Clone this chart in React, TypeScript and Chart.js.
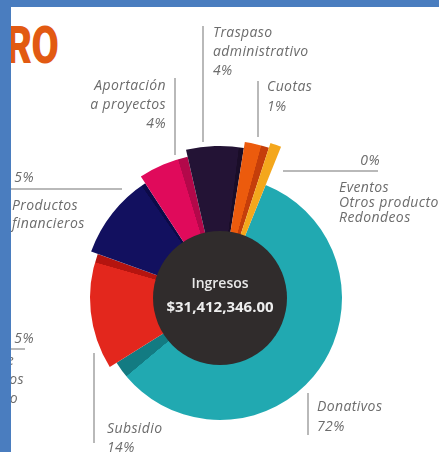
import React, { useEffect, useRef } from "react";
import { Chart, registerables } from "chart.js";

Chart.register(...registerables);

// ---- data ----
const categories = [
  "Donativos",
  "Subsidio",
  "Productos financieros",
  "Aportación a proyectos",
  "Traspaso administrativo",
  "Cuotas",
  "Eventos / Otros productos / Redondeos",
];
// share of the circle each drawn slice takes
const sliceShares = [60, 14.4, 10.3, 5.6, 6.1, 2.5, 1.1];
// percentages printed next to the slices
const percentLabels = ["72%", "14%", "5%", "4%", "4%", "1%", "0%"];
const totalLabel = "$31,412,346.00";

// ---- styles ----
const sliceColors = ["#21a9b1", "#e3271d", "#12105f", "#e00a5b", "#231335", "#ec5b0d", "#f4a71c"];
const shadeColors = ["#137b82", "#b5140f", "#0c0a48", "#b3084a", "#1a0d28", "#c53e0a", "#d98c12"];
const sliceOuterRadius = [122, 130, 137, 145, 152, 158, 163];
const shadeDeg = [8, 4, 2, 4, 2, 3, 0];

const spiralPlugin = {
  id: "spiralShade",
  beforeDatasetsDraw(chart: any) {
    const meta = chart.getDatasetMeta(0);
    const ctx = chart.ctx as CanvasRenderingContext2D;
    const TAU = Math.PI * 2;
    meta.data.forEach((arc: any, i: number) => {
      arc.outerRadius = sliceOuterRadius[i];
      const a0 = arc.startAngle;
      const circ = arc.endAngle - arc.startAngle;
      const pre = 0.03;
      const shade = Math.min((shadeDeg[i] * Math.PI) / 180, circ);
      const g = ctx.createConicGradient(a0 - pre, arc.x, arc.y);
      const f1 = (pre + circ - shade) / TAU;
      const f2 = Math.min(1, (pre + circ + pre) / TAU);
      g.addColorStop(0, sliceColors[i]);
      g.addColorStop(f1, sliceColors[i]);
      g.addColorStop(Math.min(1, f1 + 0.0005), shadeColors[i]);
      g.addColorStop(f2, shadeColors[i]);
      arc.options = Object.assign({}, arc.options, { backgroundColor: g });
    });
  },
};

const labelColor = "#6c6c6c";
const lineColor = "#b9b9b9";
const LABEL_FONT = '"Open Sans", "DejaVu Sans", sans-serif';

function Label(props: {
  x: number;
  baseline: number;
  lines: string[];
  align?: "left" | "right";
  lh?: number;
  fs?: number;
}) {
  const lh = props.lh ?? 19;
  const fs = props.fs ?? 14;
  const top = props.baseline - (lh / 2 + 0.388 * fs);
  const style: React.CSSProperties = {
    position: "absolute",
    top,
    fontFamily: LABEL_FONT,
    fontStyle: "italic",
    fontSize: fs,
    letterSpacing: "0.4px",
    lineHeight: lh + "px",
    color: labelColor,
    whiteSpace: "nowrap",
  };
  if (props.align === "right") {
    style.right = 439 - props.x;
    style.textAlign = "right";
  } else {
    style.left = props.x;
  }
  return (
    <div style={style}>
      {props.lines.map((l, i) => (
        <div key={i}>{l}</div>
      ))}
    </div>
  );
}

function VLine({ x, y1, y2 }: { x: number; y1: number; y2: number }) {
  return <div style={{ position: "absolute", left: x - 1, top: y1, width: 2, height: y2 - y1, background: lineColor }} />;
}
function HLine({ y, x1, x2 }: { y: number; x1: number; x2: number }) {
  return <div style={{ position: "absolute", left: x1, top: y - 1, width: x2 - x1, height: 2, background: lineColor }} />;
}

const titleStyle: React.CSSProperties = {
  position: "absolute",
  top: 20,
  fontFamily: "Roboto, sans-serif",
  fontWeight: 900,
  fontSize: 52,
  lineHeight: 1,
  color: "#e25a12",
  transform: "scaleX(0.76)",
  transformOrigin: "right center",
  whiteSpace: "nowrap",
};

export default function App() {
  const ref = useRef<HTMLCanvasElement | null>(null);

  useEffect(() => {
    if (!ref.current) return;
    const chart = new Chart(ref.current, {
      type: "doughnut",
      data: {
        labels: categories,
        datasets: [
          {
            data: sliceShares,
            backgroundColor: sliceColors,
            borderWidth: 0,
          },
        ],
      },
      options: {
        responsive: false,
        animation: false,
        rotation: 22,
        cutout: 50,
        layout: { padding: 0 },
        plugins: { legend: { display: false }, tooltip: { enabled: false } },
        events: [],
      },
      plugins: [spiralPlugin],
    });
    return () => chart.destroy();
  }, []);

  return (
    <div
      style={{
        position: "absolute",
        left: 0,
        top: 0,
        width: 439,
        height: 452,
        overflow: "hidden",
        background: "#ffffff",
      }}
    >
      <div style={{ ...titleStyle, right: 439 - 32 }}>R</div>
      <div style={{ ...titleStyle, right: 439 - 59 }}>O</div>

      <canvas ref={ref} width={340} height={340} style={{ position: "absolute", left: 50, top: 128 }} />

      <div
        style={{
          position: "absolute",
          left: 153,
          top: 231,
          width: 134,
          height: 134,
          borderRadius: "50%",
          background: "#302c2c",
        }}
      />
      <div
        style={{
          position: "absolute",
          left: 120,
          width: 200,
          top: 273.6,
          textAlign: "center",
          fontFamily: '"Open Sans", sans-serif',
          fontWeight: 600,
          fontSize: 14,
          lineHeight: "18px",
          color: "#e8e8e8",
        }}
      >
        Ingresos
      </div>
      <div
        style={{
          position: "absolute",
          left: 120,
          width: 200,
          top: 297,
          textAlign: "center",
          fontFamily: '"Open Sans", sans-serif',
          fontWeight: 700,
          fontSize: 15,
          lineHeight: "18px",
          color: "#eeeeee",
        }}
      >
        {totalLabel}
      </div>

      {/* leader lines */}
      <VLine x={203} y1={26} y2={142} />
      <VLine x={258} y1={81} y2={137} />
      <VLine x={175} y1={78} y2={155} />
      <HLine y={171} x1={283} x2={378} />
      <HLine y={189} x1={11} x2={122} />
      <HLine y={349} x1={11} x2={25} />
      <VLine x={94} y1={353} y2={443} />
      <VLine x={308} y1={393} y2={435} />

      {/* labels */}
      <Label x={213} baseline={37} lines={["Traspaso", "administrativo", percentLabels[4]]} />
      <Label x={267} baseline={91} lines={["Cuotas", percentLabels[5]]} lh={20} />
      <Label x={166} baseline={90} align="right" lines={["Aportación", "a proyectos", percentLabels[3]]} />
      <Label x={380} baseline={165} align="right" lines={[percentLabels[6]]} />
      <Label x={339} baseline={192} lh={15} lines={["Eventos", "Otros productos", "Redondeos"]} />
      <Label x={34} baseline={182} align="right" lines={[percentLabels[2]]} />
      <Label x={12} baseline={210} lh={18} lines={["Productos", "financieros"]} />
      <Label x={34} baseline={343} align="right" lines={["5%"]} />
      <Label x={14} baseline={365} align="right" lines={["e"]} />
      <Label x={24} baseline={384} align="right" lines={["os"]} />
      <Label x={18} baseline={403} align="right" lines={["o"]} />
      <Label x={107} baseline={433} lines={["Subsidio", percentLabels[1]]} />
      <Label x={317} baseline={411} lh={20} lines={["Donativos", percentLabels[0]]} />

      {/* blue frame */}
      <div style={{ position: "absolute", left: 0, top: 0, width: 439, height: 7, background: "#4a7dbf" }} />
      <div style={{ position: "absolute", left: 0, top: 0, width: 11, height: 452, background: "#4a7dbf" }} />
    </div>
  );
}
